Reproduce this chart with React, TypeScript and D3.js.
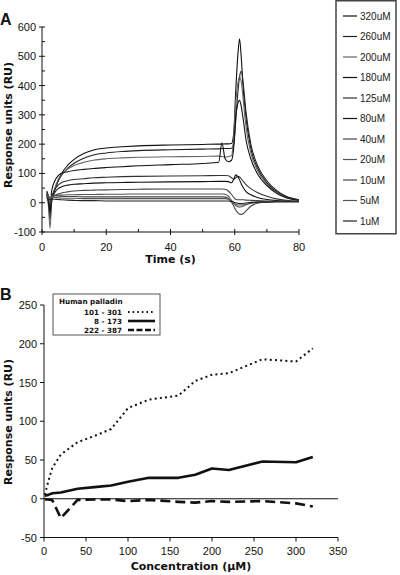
import React from "react";
import * as d3 from "d3";

// ---- Panel A: sensorgrams (time in s, response in RU) ----
const timeS = [1.5, 2, 2.5, 3, 4, 5, 6, 8, 10, 13, 16, 20, 25, 30, 40, 50, 55, 56, 57, 58, 59, 59.7, 60.3, 61, 61.5, 62, 62.7, 63.5, 65, 67, 70, 73, 76, 80];

const concLabels = ["320uM", "260uM", "200uM", "180uM", "125uM", "80uM", "40uM", "20uM", "10uM", "5uM", "1uM"];

const ru320 = [30, 5, -30, 10, 45, 75, 98, 128, 148, 168, 180, 187, 191, 194, 197, 199, 200, 200, 201, 201, 202, 240, 380, 510, 560, 500, 380, 290, 185, 120, 68, 38, 20, 10];
const ru260 = [35, 0, -60, 5, 45, 72, 92, 118, 135, 152, 163, 170, 175, 178, 181, 183, 184, 185, 185, 185, 186, 200, 280, 380, 430, 450, 400, 310, 200, 130, 75, 42, 22, 10];
const ru200 = [25, -10, -88, 0, 50, 78, 95, 115, 127, 138, 145, 150, 153, 155, 157, 158, 159, 158, 156, 158, 160, 230, 340, 410, 430, 415, 345, 260, 170, 112, 63, 34, 18, 8];
const ru180 = [40, 20, -20, 40, 75, 92, 100, 106, 110, 114, 117, 120, 123, 126, 130, 134, 138, 205, 150, 140, 145, 190, 290, 340, 350, 330, 280, 215, 150, 100, 58, 32, 17, 8];
const ru125 = [30, 10, -40, 15, 45, 60, 68, 75, 79, 82, 85, 87, 89, 90, 91, 92, 93, 93, 93, 92, 85, 80, 85, 90, 88, 82, 72, 62, 48, 35, 22, 13, 8, 5];
const ru80 = [20, 5, -30, 10, 35, 48, 54, 60, 63, 65, 67, 68, 69, 70, 71, 72, 73, 73, 73, 72, 68, 80, 95, 88, 78, 65, 50, 38, 27, 18, 11, 7, 5, 4];
const ru40 = [25, 15, -5, 15, 25, 30, 33, 37, 40, 42, 43, 44, 45, 46, 47, 47, 47, 47, 46, 40, 28, 18, 12, 10, 10, 10, 10, 9, 8, 7, 6, 5, 5, 4];
const ru20 = [30, 20, 5, 20, 25, 26, 26, 27, 27, 28, 28, 29, 29, 30, 30, 30, 30, 30, 29, 22, 8, -2, -10, -14, -15, -14, -11, -7, -2, 2, 4, 5, 5, 5];
const ru10 = [35, 25, 15, 22, 24, 23, 22, 21, 21, 20, 20, 20, 20, 20, 20, 20, 20, 20, 19, 14, 2, -12, -25, -35, -39, -40, -37, -28, -12, -2, 3, 4, 5, 5];
const ru5 = [20, 18, 15, 17, 18, 17, 16, 15, 15, 14, 14, 14, 14, 14, 14, 14, 14, 14, 14, 12, 6, 0, -5, -8, -8, -8, -7, -5, -2, 1, 3, 4, 4, 4];
const ru1 = [15, 12, 10, 12, 12, 11, 10, 9, 8, 7, 7, 6, 6, 6, 6, 6, 6, 6, 6, 6, 4, 2, 0, -2, -3, -3, -2, -1, 1, 2, 2, 3, 3, 3];

const sensorgrams = [ru320, ru260, ru200, ru180, ru125, ru80, ru40, ru20, ru10, ru5, ru1];
const traceColors = ["#111", "#222", "#666", "#111", "#333", "#111", "#444", "#555", "#444", "#555", "#222"];

const timeTicks = [0, 20, 40, 60, 80];
const ruTicksA = [-100, 0, 100, 200, 300, 400, 500, 600];

// ---- Panel B: steady-state response vs concentration ----
const concUM = [1, 5, 10, 20, 40, 60, 80, 100, 125, 160, 180, 200, 220, 260, 300, 320];
const frag101_301 = [5, 22, 40, 57, 73, 81, 90, 117, 128, 133, 152, 160, 162, 180, 177, 194];
const frag8_173 = [4, 5, 7, 8, 13, 15, 17, 22, 27, 27, 31, 39, 37, 48, 47, 54];
const frag222_387 = [-1, -1, -2, -25, -1.5, -1, -1, -3, -1.5, -4, -5, -3, -4, -3, -6, -10];

const fragmentNames = ["101 - 301", "8 - 173", "222 - 387"];
const concTicks = [0, 50, 100, 150, 200, 250, 300, 350];
const ruTicksB = [-50, 0, 50, 100, 150, 200, 250];

const tickFont = "'Liberation Sans', Arial, sans-serif";
const boldFont = "'DejaVu Sans', Verdana, sans-serif";

export default function App() {
  // Panel A scales
  const xA = d3.scaleLinear().domain([0, 80]).range([42, 299]);
  const yA = d3.scaleLinear().domain([-100, 600]).range([232, 27]);
  const lineA = d3
    .line<number>()
    .x((_, i) => xA(timeS[i]))
    .y((d) => yA(d))
    .curve(d3.curveMonotoneX);

  // Panel B scales
  const xB = d3.scaleLinear().domain([0, 350]).range([44, 338]);
  const yB = d3.scaleLinear().domain([-50, 250]).range([537.5, 305]);
  const lineB = d3
    .line<number>()
    .x((_, i) => xB(concUM[i]))
    .y((d) => yB(d));

  const minorA = d3.range(-50, 600, 100);
  const minorT = d3.range(10, 80, 20);

  const bSeries = [
    { data: frag101_301, dash: "2 3.2", width: 2, cap: "butt" },
    { data: frag8_173, dash: undefined, width: 2.6, cap: "butt" },
    { data: frag222_387, dash: "10 5", width: 2.6, cap: "butt" },
  ];

  return (
    <svg
      width={400}
      height={575}
      style={{ position: "absolute", left: 0, top: 0, background: "#fff" }}
    >
      {/* Panel letter A */}
      <text x={0} y={25} fontFamily={tickFont} fontWeight="bold" fontSize={16} fill="#111">
        A
      </text>

      {/* Sensorgram traces */}
      <g fill="none" strokeWidth={1.1} strokeLinejoin="round">
        {sensorgrams.map((s, i) => (
          <path key={i} d={lineA(s) || ""} stroke={traceColors[i]} />
        ))}
      </g>

      {/* Axis A: y */}
      <g stroke="#111" strokeWidth={1}>
        <line x1={xA(0)} x2={xA(0)} y1={yA(-100)} y2={yA(600)} />
        {ruTicksA.map((t) => (
          <line key={t} x1={xA(0) - 3} x2={xA(0) + 3} y1={yA(t)} y2={yA(t)} />
        ))}
        {minorA.map((t) => (
          <line key={t} x1={xA(0)} x2={xA(0) + 3} y1={yA(t)} y2={yA(t)} />
        ))}
        <line x1={xA(0)} x2={xA(80)} y1={yA(-100)} y2={yA(-100)} />
        {timeTicks.map((t) => (
          <line key={t} x1={xA(t)} x2={xA(t)} y1={yA(-100) - 3} y2={yA(-100) + 3} />
        ))}
        {minorT.map((t) => (
          <line key={t} x1={xA(t)} x2={xA(t)} y1={yA(-100) - 3} y2={yA(-100)} />
        ))}
      </g>
      <g fontFamily={tickFont} fontSize={11} fill="#111">
        {ruTicksA.map((t) => (
          <text key={t} x={xA(0) - 6} y={yA(t) + 4} textAnchor="end">
            {t}
          </text>
        ))}
        {timeTicks.map((t) => (
          <text key={t} x={xA(t)} y={yA(-100) + 19} textAnchor="middle">
            {t}
          </text>
        ))}
      </g>
      <text x={(xA(0) + xA(80)) / 2} y={263} textAnchor="middle" fontFamily={boldFont} fontWeight="bold" fontSize={11} fill="#111">
        Time (s)
      </text>
      <text
        transform={`translate(12, 125) rotate(-90)`}
        textAnchor="middle"
        fontFamily={boldFont}
        fontWeight="bold"
        fontSize={11}
        fill="#111"
      >
        Response units (RU)
      </text>

      {/* Legend A */}
      <rect x={336} y={0.75} width={60} height={233} fill="#fff" stroke="#444" strokeWidth={1.5} />
      {concLabels.map((c, i) => {
        const cy = 16 + i * 20.5;
        return (
          <g key={c}>
            <line x1={343} x2={357} y1={cy} y2={cy} stroke={traceColors[i]} strokeWidth={1.2} />
            <text x={360} y={cy + 3.5} fontFamily={tickFont} fontSize={10} fill="#222">
              {c}
            </text>
          </g>
        );
      })}

      {/* Panel letter B */}
      <text x={0} y={300} fontFamily={tickFont} fontWeight="bold" fontSize={16} fill="#111">
        B
      </text>

      {/* Zero line */}
      <line x1={xB(0)} x2={xB(350)} y1={yB(0)} y2={yB(0)} stroke="#111" strokeWidth={1} />

      {/* Binding curves */}
      <g fill="none" stroke="#111" strokeLinejoin="round">
        {bSeries.map((s, i) => (
          <path key={i} d={lineB(s.data) || ""} strokeWidth={s.width} strokeDasharray={s.dash} />
        ))}
      </g>

      {/* Axis B */}
      <g stroke="#111" strokeWidth={1}>
        <line x1={xB(0)} x2={xB(0)} y1={yB(-50)} y2={yB(250)} />
        {ruTicksB.map((t) => (
          <line key={t} x1={xB(0) - 4} x2={xB(0)} y1={yB(t)} y2={yB(t)} />
        ))}
        <line x1={xB(0)} x2={xB(350)} y1={yB(-50)} y2={yB(-50)} />
        {concTicks.map((t) => (
          <line key={t} x1={xB(t)} x2={xB(t)} y1={yB(-50)} y2={yB(-50) + 4} />
        ))}
      </g>
      <g fontFamily={tickFont} fontSize={11} fill="#111">
        {ruTicksB.map((t) => (
          <text key={t} x={xB(0) - 7} y={yB(t) + 4} textAnchor="end">
            {t}
          </text>
        ))}
        {concTicks.map((t) => (
          <text key={t} x={xB(t)} y={yB(-50) + 17} textAnchor="middle">
            {t}
          </text>
        ))}
      </g>
      <text x={(xB(0) + xB(350)) / 2} y={570} textAnchor="middle" fontFamily={boldFont} fontWeight="bold" fontSize={11} fill="#111">
        Concentration (μM)
      </text>
      <text
        transform={`translate(12, 422) rotate(-90)`}
        textAnchor="middle"
        fontFamily={boldFont}
        fontWeight="bold"
        fontSize={11}
        fill="#111"
      >
        Response units (RU)
      </text>

      {/* Legend B */}
      <rect x={53} y={294} width={107} height={41} fill="#fff" stroke="#555" strokeWidth={1} />
      <text x={59} y={304} fontFamily={boldFont} fontWeight="bold" fontSize={7.2} fill="#111">
        Human palladin
      </text>
      {fragmentNames.map((n, i) => {
        const cy = 312 + i * 9;
        const s = bSeries[i];
        return (
          <g key={n}>
            <text x={122} y={cy + 2.5} textAnchor="end" fontFamily={boldFont} fontWeight="bold" fontSize={7.2} fill="#111">
              {n}
            </text>
            <line x1={128} x2={155} y1={cy} y2={cy} stroke="#111" strokeWidth={s.width} strokeDasharray={i === 0 ? "1.6 3" : i === 2 ? "6 2.5" : undefined} />
          </g>
        );
      })}
    </svg>
  );
}
